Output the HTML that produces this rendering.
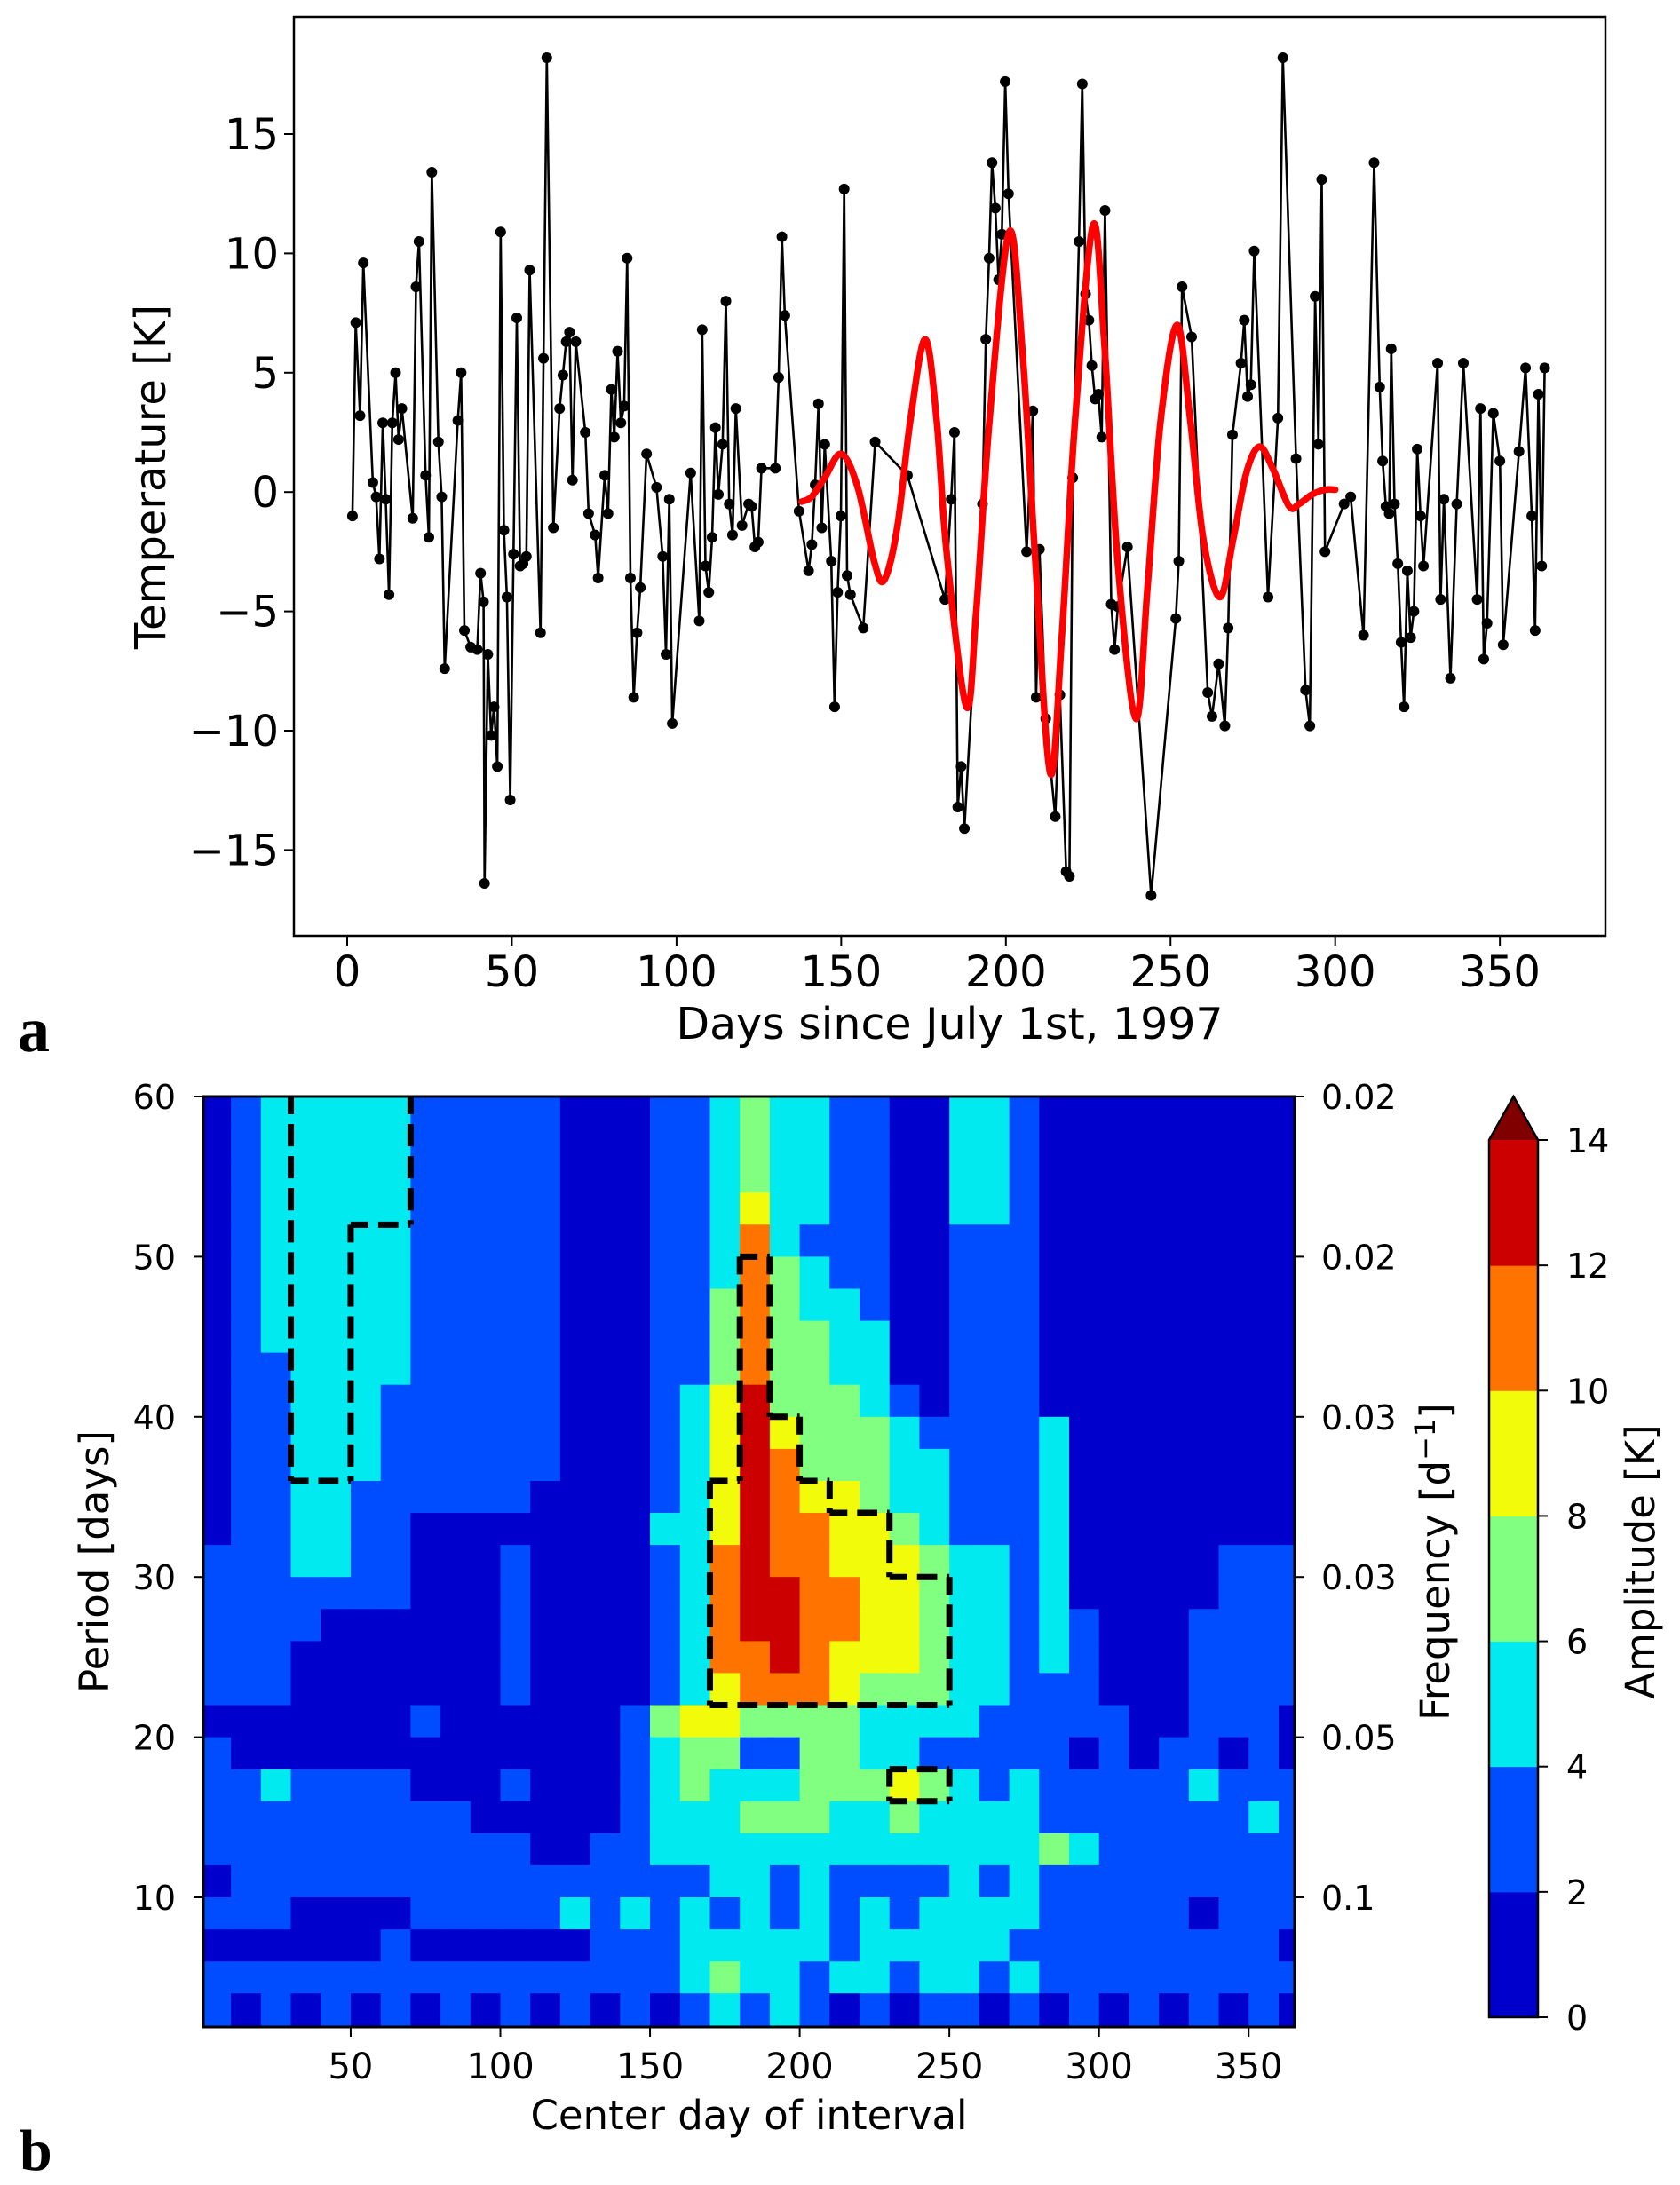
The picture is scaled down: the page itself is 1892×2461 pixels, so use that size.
<!DOCTYPE html>
<html><head><meta charset="utf-8"><title>Temperature and amplitude spectrum</title>
<style>
html,body{margin:0;padding:0;background:#fff;}
svg{display:block;font-family:"DejaVu Sans","Liberation Sans",sans-serif;}
</style></head>
<body>
<svg id="fig" width="1892" height="2461" viewBox="0 0 1892 2461" xmlns="http://www.w3.org/2000/svg">
<rect width="1892" height="2461" fill="#fff"/>
<g id="topPanel"></g>
<g id="botPanel"></g>
</svg>
<script>
// ---------- Panel a data ----------
const obsDays = [1.6,2.6,3.9,4.9,7.8,8.8,9.8,10.8,11.7,12.7,13.7,14.7,15.6,16.6,19.9,20.9,21.8,23.8,24.8,25.7,27.7,28.7,29.6,33.6,34.6,35.6,37.5,39.5,40.5,41.4,41.7,42.7,43.7,44.6,45.6,46.6,47.6,48.5,49.5,50.5,51.5,52.5,53.4,54.4,55.4,58.7,59.6,60.6,62.6,64.5,65.5,66.5,67.5,68.4,69.4,72.3,73.3,75.3,76.2,78.2,79.2,80.2,81.1,82.1,83.1,84.1,85.0,86.0,87.0,88.0,89.0,90.9,93.9,95.8,96.8,97.8,98.7,104.3,106.9,107.8,108.8,109.8,110.8,111.8,112.7,114.0,115.0,116.0,117.0,118.0,119.9,121.9,122.8,123.8,124.8,125.8,130.0,131.0,132.0,132.9,137.2,140.1,141.1,142.1,143.1,144.1,145.0,147.0,148.0,148.9,149.9,150.9,151.8,152.8,156.7,160.3,170.1,181.5,183.4,184.4,185.4,186.4,187.4,192.9,193.9,194.9,195.8,196.8,197.8,198.8,199.8,200.8,206.3,208.2,209.2,210.2,212.1,215.0,216.4,218.3,219.3,220.3,222.2,223.2,224.2,225.2,226.1,227.1,228.1,229.1,230.1,232.0,233.0,234.0,236.9,244.1,251.6,252.5,253.5,256.4,261.3,262.6,264.6,266.5,267.5,268.8,271.4,272.4,273.4,274.4,275.4,279.6,282.6,284.1,288.1,291.0,292.3,293.9,294.9,295.9,296.9,302.7,304.7,308.6,311.8,313.5,314.4,315.4,316.4,317.0,318.0,319.0,320.0,320.9,321.9,322.9,323.9,324.9,325.9,326.8,331.1,332.0,333.0,335.0,336.9,338.9,343.1,344.1,345.1,346.1,348.0,350.0,351.0,355.8,357.8,359.7,360.7,361.7,362.7,363.6];
const obsTemps = [-1.0,7.1,3.2,9.6,0.4,-0.2,-2.8,2.9,-0.3,-4.3,2.9,5.0,2.2,3.5,-1.1,8.6,10.5,0.7,-1.9,13.4,2.1,-0.2,-7.4,3.0,5.0,-5.8,-6.5,-6.6,-3.4,-4.6,-16.4,-6.8,-10.2,-9.0,-11.5,10.9,-1.6,-4.4,-12.9,-2.6,7.3,-3.1,-3.0,-2.7,9.3,-5.9,5.6,18.2,-1.5,3.5,4.9,6.3,6.7,0.5,6.3,2.5,-0.9,-1.8,-3.6,0.7,-0.9,4.3,2.3,5.9,2.9,3.6,9.8,-3.6,-8.6,-5.9,-4.0,1.6,0.2,-2.7,-6.8,-0.3,-9.7,0.8,-5.4,6.8,-3.1,-4.2,-1.9,2.7,-0.1,2.0,8.0,-0.5,-1.8,3.5,-1.4,-0.5,-0.6,-2.3,-2.1,1.0,1.0,4.8,10.7,7.4,-0.8,-3.3,-2.2,0.3,3.7,-1.5,2.0,-2.9,-9.0,-4.2,-1.0,12.7,-3.5,-4.3,-5.7,2.1,0.7,-4.5,-0.3,2.5,-13.2,-11.5,-14.1,-0.5,6.4,9.8,13.8,11.9,8.9,10.8,17.2,12.5,-2.5,3.4,-8.6,-2.4,-9.5,-13.6,-8.5,-15.9,-16.1,0.6,10.5,17.1,8.3,7.2,5.3,3.9,4.1,2.3,11.8,-4.7,-6.6,-4.8,-2.3,-16.9,-5.3,-2.9,8.6,6.5,-8.4,-9.4,-7.2,-9.8,-5.7,2.4,5.4,7.2,4.0,4.5,10.1,-4.4,3.1,18.2,1.4,-8.3,-9.8,8.2,2.0,13.1,-2.5,-0.5,-0.2,-6.0,13.8,4.4,1.3,-0.6,-0.9,6.0,-0.5,-3.0,-6.3,-9.0,-3.3,-6.1,-5.0,1.8,-1.0,-3.1,5.4,-4.5,-0.3,-7.8,-0.5,5.4,-4.5,3.5,-7.0,-5.5,3.3,1.3,-6.4,1.7,5.2,-1.0,-5.8,4.1,-3.1,5.2];
const fitDays = [138,141,145,150,155,160,163,167,171,175.5,179,182,188,191,195,201,205,209,213.5,217,221,226.5,230,234,239.5,243,247,252,256,260,265,269,273,277,281,286,289,293,297,300];
const fitVals = [-0.4,-0.2,0.6,1.6,0.2,-2.9,-3.7,-1.5,3,6.4,3,-2.5,-9.0,-5,3,10.9,6,-3,-11.8,-6,3,11.2,6,-3,-9.5,-4,3,7.0,3,-2,-4.4,-2,0.8,1.9,1,-0.6,-0.5,-0.1,0.1,0.1];
const xTicksA = [0,50,100,150,200,250,300,350];
const yTicksA = [-15,-10,-5,0,5,10,15];

// ---------- Panel b data ----------
const ampRows = [
"01222 22111 11000 11232 21100 22100 00000 00",
"01222 22111 11000 11232 21100 22100 00000 00",
"01222 22111 11000 11232 21100 22100 00000 00",
"01222 22111 11000 11242 21100 22100 00000 00",
"01222 22111 11000 11252 11100 11100 00000 00",
"01222 22111 11000 11253 21100 11100 00000 00",
"01222 22111 11000 11353 22100 11100 00000 00",
"01222 22111 11000 11353 32200 11100 00000 00",
"01122 22111 11000 11353 32200 11100 00000 00",
"01122 21111 11000 12463 33210 11100 00000 00",
"01122 21111 11000 12464 33321 11120 00000 00",
"01122 21111 11000 12465 33322 11120 00000 00",
"01122 11111 10000 12465 44322 11120 00000 00",
"01122 11000 00000 22465 54432 11120 00000 00",
"11122 11000 10000 12565 54443 22120 00001 11",
"11111 11000 10000 12566 55443 22120 00001 11",
"11110 00000 10000 12566 55443 22121 00011 11",
"11100 00000 10000 12556 54443 22121 00011 11",
"11100 00000 10000 12455 54333 22111 00011 11",
"00000 00100 00001 34433 33222 21111 10011 10",
"10000 00000 00001 23311 33221 11110 10110 10",
"11211 11000 10001 23222 33343 21211 11121 11",
"11111 11110 00001 22233 32232 22211 11111 21",
"11111 11111 10011 22222 22222 22232 11111 11",
"01111 11111 11111 11221 21111 21211 11111 11",
"11100 00111 11212 12121 21212 22211 11101 11",
"00000 01000 00011 12222 21222 22111 11111 10",
"11111 11111 11111 12322 12212 21211 11111 11",
"10101 01010 10101 01212 10101 10101 01010 10"
];
const sigRows = [
"00011 11000 00000 00000 00000 00000 00000 00",
"00011 11000 00000 00000 00000 00000 00000 00",
"00011 11000 00000 00000 00000 00000 00000 00",
"00011 11000 00000 00000 00000 00000 00000 00",
"00011 00000 00000 00000 00000 00000 00000 00",
"00011 00000 00000 00010 00000 00000 00000 00",
"00011 00000 00000 00010 00000 00000 00000 00",
"00011 00000 00000 00010 00000 00000 00000 00",
"00011 00000 00000 00010 00000 00000 00000 00",
"00011 00000 00000 00010 00000 00000 00000 00",
"00011 00000 00000 00011 00000 00000 00000 00",
"00011 00000 00000 00011 00000 00000 00000 00",
"00000 00000 00000 00111 10000 00000 00000 00",
"00000 00000 00000 00111 11100 00000 00000 00",
"00000 00000 00000 00111 11100 00000 00000 00",
"00000 00000 00000 00111 11111 00000 00000 00",
"00000 00000 00000 00111 11111 00000 00000 00",
"00000 00000 00000 00111 11111 00000 00000 00",
"00000 00000 00000 00111 11111 00000 00000 00",
"00000 00000 00000 00000 00000 00000 00000 00",
"00000 00000 00000 00000 00000 00000 00000 00",
"00000 00000 00000 00000 00011 00000 00000 00",
"00000 00000 00000 00000 00000 00000 00000 00",
"00000 00000 00000 00000 00000 00000 00000 00",
"00000 00000 00000 00000 00000 00000 00000 00",
"00000 00000 00000 00000 00000 00000 00000 00",
"00000 00000 00000 00000 00000 00000 00000 00",
"00000 00000 00000 00000 00000 00000 00000 00",
"00000 00000 00000 00000 00000 00000 00000 00"
];
const levelColors = ["#0000cc","#004dff","#00eaf0","#80ff80","#f2fb0a","#ff7300","#cc0000"];
const extendColor = "#800000";
const cbTicks = [0,2,4,6,8,10,12,14];
const xTicksB = [50,100,150,200,250,300,350];
const periodTicks = [10,20,30,40,50,60];
const freqLabels = ["0.1","0.05","0.03","0.03","0.02","0.02"];

const NS="http://www.w3.org/2000/svg";
function mk(tag,attrs,parent){const e=document.createElementNS(NS,tag);for(const k in attrs)e.setAttribute(k,attrs[k]);parent.appendChild(e);return e;}
function txt(parent,x,y,s,size,anchor,extra){const t=mk('text',Object.assign({x:x,y:y,'font-size':size,'text-anchor':anchor||'middle',fill:'#000'},extra||{}),parent);t.textContent=s;return t;}

// ===== Panel a =====
const topG=document.getElementById('topPanel');
const A={l:331,r:1808,t:19,b:1054};
const xa=d=>391+d*3.709;
const ya=v=>554.2-v*26.88;
const fr=mk('rect',{x:A.l,y:A.t,width:A.r-A.l,height:A.b-A.t,fill:'none',stroke:'#000','stroke-width':2.5},topG);


xTicksA.forEach(v=>{
  mk('line',{x1:xa(v),x2:xa(v),y1:A.b,y2:A.b+11,stroke:'#000','stroke-width':2},topG);
  const t=txt(topG,xa(v),1111,String(v),48,'middle');
  
  
});
yTicksA.forEach(v=>{
  mk('line',{x1:A.l-11,x2:A.l,y1:ya(v),y2:ya(v),stroke:'#000','stroke-width':2},topG);
  const t=txt(topG,314,ya(v)+17,(v<0?'\u2212':'')+Math.abs(v),48,'end');
  
  
});
const xl=txt(topG,(A.l+A.r)/2,1170,'Days since July 1st, 1997',49,'middle');


const yl=txt(topG,0,0,'Temperature [K]',48,'middle',{transform:'translate(186,537) rotate(-90)'});


const la=txt(topG,20,1184,'a',72,'start',{'font-family':'"Liberation Serif",serif','font-weight':'bold'});


const pd=obsDays.map((d,i)=>(i?'L':'M')+xa(d).toFixed(1)+','+ya(obsTemps[i]).toFixed(1)).join(' ');
const obsLine=mk('path',{d:pd,fill:'none',stroke:'#000','stroke-width':2.6,'stroke-linejoin':'round'},topG);


obsDays.forEach((d,i)=>{
  const c=mk('circle',{cx:xa(d),cy:ya(obsTemps[i]),r:6,fill:'#000'},topG);
  
  
});
const P=fitDays.map((d,i)=>[xa(d),ya(fitVals[i])]);
let fd='M'+P[0][0].toFixed(1)+','+P[0][1].toFixed(1);
for(let i=0;i<P.length-1;i++){
  const p0=P[Math.max(0,i-1)],p1=P[i],p2=P[i+1],p3=P[Math.min(P.length-1,i+2)];
  const c1=[p1[0]+(p2[0]-p0[0])/6,p1[1]+(p2[1]-p0[1])/6];
  const c2=[p2[0]-(p3[0]-p1[0])/6,p2[1]-(p3[1]-p1[1])/6];
  fd+=' C'+c1.map(v=>v.toFixed(1)).join(',')+' '+c2.map(v=>v.toFixed(1)).join(',')+' '+p2.map(v=>v.toFixed(1)).join(',');
}
const fit=mk('path',{d:fd,fill:'none',stroke:'#ff0000','stroke-width':7.5,'stroke-linejoin':'round','stroke-linecap':'round'},topG);



// ===== Panel b =====
const botG=document.getElementById('botPanel');
const B={l:229,r:1458,t:1235,b:2283};
const xb=d=>226.4+d*3.371;
const yb=p=>1235+(60-p)*18.04;
const clipB=mk('clipPath',{id:'clipB'},botG);
mk('rect',{x:B.l,y:B.t,width:B.r-B.l,height:B.b-B.t},clipB);
const hm=mk('g',{'clip-path':'url(#clipB)'},botG);


const grid=ampRows.map(r=>r.replace(/ /g,'').split('').map(Number));
const sig=sigRows.map(r=>r.replace(/ /g,'').split('').map(Number));
const nR=grid.length;
function cellY(i){return yb(60-2*i);}
function cellY2(i){return i===nR-1?B.b:yb(58-2*i);}
grid.forEach((row,i)=>{
  row.forEach((lv,j)=>{
    const x1=xb(10*j),x2=xb(10*j+10);
    const r=mk('rect',{x:x1.toFixed(1),y:cellY(i).toFixed(1),width:(x2-x1+0.8).toFixed(1),height:(cellY2(i)-cellY(i)+0.8).toFixed(1),fill:levelColors[lv]},hm);
    
    
  });
});
let cd='';
sig.forEach((row,i)=>{
  row.forEach((m,j)=>{
    if(!m)return;
    const x1=xb(10*j),x2=xb(10*j+10),y1=cellY(i),y2=cellY2(i);
    const g=(a,b)=>(sig[a]&&sig[a][b])?1:0;
    if(i>0&&!g(i-1,j))cd+=`M${x1},${y1}H${x2}`;
    if(!g(i+1,j))cd+=`M${x1},${y2}H${x2}`;
    if(!g(i,j-1))cd+=`M${x1},${y1}V${y2}`;
    if(!g(i,j+1))cd+=`M${x2},${y1}V${y2}`;
  });
});
const cont=mk('path',{d:cd,fill:'none',stroke:'#000','stroke-width':7,'stroke-dasharray':'20 11'},hm);


const frB=mk('rect',{x:B.l,y:B.t,width:B.r-B.l,height:B.b-B.t,fill:'none',stroke:'#000','stroke-width':3},botG);


xTicksB.forEach(v=>{
  mk('line',{x1:xb(v),x2:xb(v),y1:B.b,y2:B.b+11,stroke:'#000','stroke-width':2},botG);
  const t=txt(botG,xb(v),2341,String(v),40,'middle');
  
  
});
periodTicks.forEach((p,k)=>{
  mk('line',{x1:B.l-11,x2:B.l,y1:yb(p),y2:yb(p),stroke:'#000','stroke-width':2},botG);
  const t=txt(botG,198,yb(p)+14,String(p),38,'end');
  
  
  mk('line',{x1:B.r,x2:B.r+11,y1:yb(p),y2:yb(p),stroke:'#000','stroke-width':2},botG);
  const f=txt(botG,1488,yb(p)+14,freqLabels[k],38,'start');
  
  
});
const xlb=txt(botG,(B.l+B.r)/2,2398,'Center day of interval',45,'middle');


const ylb=txt(botG,0,0,'Period [days]',45,'middle',{transform:'translate(122,1759) rotate(-90)'});


const frl=mk('text',{x:0,y:0,'font-size':45,'text-anchor':'middle',transform:'translate(1632,1759) rotate(-90)'},botG);
frl.innerHTML='Frequency [d<tspan dy="-16" font-size="32">\u22121</tspan><tspan dy="16">]</tspan>';


const lb=txt(botG,22,2444,'b',66,'start',{'font-family':'"Liberation Serif",serif','font-weight':'bold'});



const CB={l:1677,r:1732,y0:2272,y14:1284,apex:1235};
const yc=v=>CB.y0+(CB.y14-CB.y0)*v/14;
const cb=mk('g',{},botG);


for(let k=0;k<7;k++){
  const r=mk('rect',{x:CB.l,y:yc(cbTicks[k+1]),width:CB.r-CB.l,height:yc(cbTicks[k])-yc(cbTicks[k+1])+0.5,fill:levelColors[k]},cb);
  
  
}
const tri=mk('polygon',{points:`${CB.l},${yc(14)} ${(CB.l+CB.r)/2},${CB.apex} ${CB.r},${yc(14)}`,fill:extendColor},cb);


mk('path',{d:`M${CB.l},${CB.y0}V${yc(14)}L${(CB.l+CB.r)/2},${CB.apex}L${CB.r},${yc(14)}V${CB.y0}Z`,fill:'none',stroke:'#000','stroke-width':2.5},cb);
cbTicks.forEach(v=>{
  mk('line',{x1:CB.r,x2:CB.r+11,y1:yc(v),y2:yc(v),stroke:'#000','stroke-width':2},cb);
  const t=txt(cb,1764,yc(v)+14,String(v),38,'start');
  
  
});
const al=txt(botG,0,0,'Amplitude [K]',45,'middle',{transform:'translate(1863,1759) rotate(-90)'});


</script>
</body></html>
